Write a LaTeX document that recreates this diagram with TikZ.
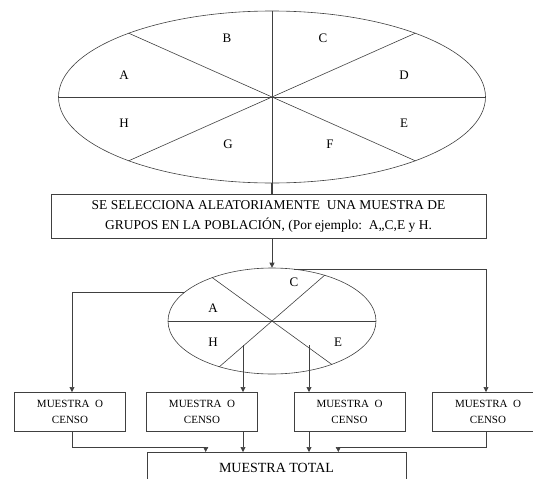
\documentclass[tikz,border=0pt]{standalone}
\usepackage{fontspec}
\setmainfont{Liberation Serif}
\usetikzlibrary{arrows.meta,shapes.geometric}

\tikzset{
	linea/.style={draw=black!75, line width=0.6pt},
	flecha/.style={linea, -{Triangle[length=5pt,width=5pt]}},
	letra/.style={font=\fontsize{13}{15}\selectfont, inner sep=0pt},
	elipse/.style={linea, ellipse, inner sep=0pt},
	caja/.style={linea, rectangle, anchor=north, align=center, inner sep=0pt,
		font=\fontsize{11}{15.5}\selectfont, minimum width=111pt, minimum height=39pt},
}

\begin{document}
\begin{tikzpicture}[x=1pt,y=-1pt]
		\useasboundingbox (0,0) rectangle (533,479);
		\clip (0,0) rectangle (533,479);
		% poblacion dividida en grupos
		\node[elipse, minimum width=427pt, minimum height=172pt] (pob) at (272,97) {};
		\draw[linea] (pob.west) -- (pob.east);
		\draw[linea] (pob.156) -- (pob.-24);
		\draw[linea] (pob.24) -- (pob.204);
		\draw[linea] (pob.north) -- (pob.south);
		\foreach \l/\x/\y in {B/227/38, C/323/38, A/124/75, D/404/75,
			H/124/123, E/404/123, G/228/144, F/330/144}
			\node[letra] (p\l) at (\x,\y) {\l};
		% seleccion
		\node[linea, anchor=north, align=center, inner sep=0pt,
			minimum width=435pt, minimum height=44pt,
			font=\fontsize{13.5}{19.5}\selectfont] (sel) at (268.5,194)
			{SE SELECCIONA ALEATORIAMENTE\ \ UNA MUESTRA DE\\
			GRUPOS EN LA POBLACIÓN, (Por ejemplo:\ \ A,,C,E y H.};
		\draw[linea, line width=1.2pt] (pob.south) -- (pob.south |- sel.north);
		% muestra de grupos
		\node[elipse, minimum width=208pt, minimum height=106pt] (mue) at (272,321) {};
		\draw[linea] (mue.west) -- (mue.east);
		\draw[linea] (mue.144) -- (mue.324);
		\draw[linea] (mue.41.5) -- (mue.221.5);
		\foreach \l/\x/\y in {C/294/282, A/213/308, H/213/342, E/338/342}
			\node[letra] (m\l) at (\x,\y) {\l};
		\draw[flecha] (mue.north |- sel.south) -- (mue.north);
		\coordinate (hpt) at (243,345);
		\coordinate (ept) at (309,345);
		% muestra o censo
		\node[caja] (c1) at (70,392) {MUESTRA\ \ O\\CENSO};
		\node[caja] (c2) at (202,392) {MUESTRA\ \ O\\CENSO};
		\node[caja] (c3) at (349.5,392) {MUESTRA\ \ O\\CENSO};
		\node[caja] (c4) at (488,392) {MUESTRA\ \ O\\CENSO};
		\draw[flecha] (mue.162) -| ([xshift=2pt]c1.north);
		\draw[flecha] (mue.67) -| ([xshift=-2pt]c4.north);
		\draw[flecha] (hpt) -- (hpt |- c2.north);
		\draw[flecha] (ept) -- (ept |- c3.north);
		% muestra total
		\node[linea, anchor=north, inner sep=0pt, minimum width=259pt,
			text height=20pt, text depth=30pt,
			font=\fontsize{14}{16}\selectfont] (tot) at (276.5,452) {MUESTRA TOTAL};
		\draw[flecha] ([xshift=2pt]c1.south) -- ++(0,16) -| ([xshift=59pt]tot.north west);
		\draw[flecha] (hpt |- c2.south) -- (hpt |- tot.north);
		\draw[flecha] (ept |- c3.south) -- (ept |- tot.north);
		\draw[flecha] ([xshift=-2pt]c4.south) -- ++(0,16) -| ([xshift=-68pt]tot.north east);
	\end{tikzpicture}
\end{document}
